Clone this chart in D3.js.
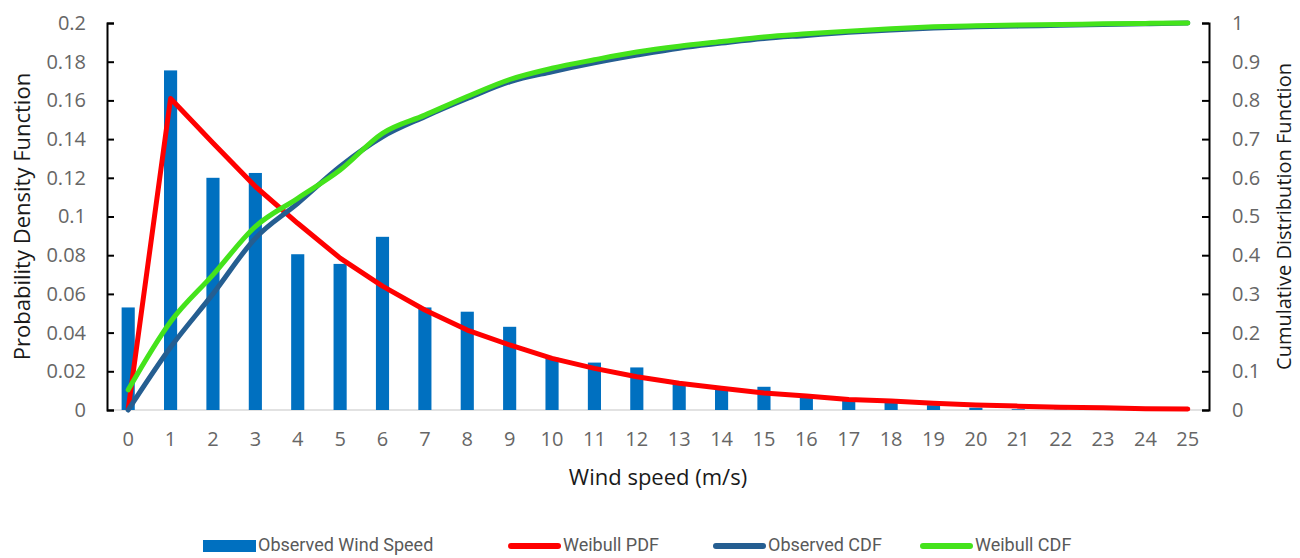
<!DOCTYPE html>
<html>
<head>
<meta charset="utf-8">
<script src="https://cdn.jsdelivr.net/npm/d3@7.9.0/dist/d3.min.js"></script>
<style>
  html, body { margin: 0; padding: 0; background: #fff; }
  svg { display: block; font-family: "Open Sans", "Noto Sans", sans-serif; }
  .tick text { fill: #666; }
</style>
</head>
<body>
<svg id="chart" width="1300" height="558"></svg>
<script>
const speeds = d3.range(0, 26).map(String);

const observedPdf = [
  0.053, 0.1755, 0.12, 0.1225, 0.0805, 0.0755, 0.0895, 0.053, 0.0508, 0.043,
  0.027, 0.0245, 0.022, 0.014, 0.0105, 0.012, 0.007, 0.005, 0.0045, 0.0025,
  0.0012, 0.0004, 0.0002, 0.0001, 0.0001, 0,
];

const weibullPdf = [
  0.0005, 0.161, 0.138, 0.1155, 0.0965, 0.0785, 0.064, 0.0517, 0.0413, 0.0336,
  0.0267, 0.0215, 0.0172, 0.0138, 0.0112, 0.0088, 0.0072, 0.0054, 0.0047, 0.0035,
  0.0026, 0.002, 0.0014, 0.0012, 0.0007, 0.0005,
];

const observedCdf = [
  0, 0.162, 0.3, 0.444, 0.534, 0.629, 0.706, 0.758, 0.805, 0.848,
  0.874, 0.897, 0.917, 0.935, 0.948, 0.96, 0.968, 0.976, 0.982, 0.987,
  0.99, 0.992, 0.994, 0.996, 0.998, 1.0,
];

const weibullCdf = [
  0.052, 0.228, 0.349, 0.474, 0.547, 0.62, 0.715, 0.762, 0.81, 0.854,
  0.883, 0.905, 0.925, 0.94, 0.952, 0.964, 0.972, 0.979, 0.985, 0.99,
  0.993, 0.995, 0.996, 0.998, 0.999, 1.0,
];

const leftTicks = [0, 0.02, 0.04, 0.06, 0.08, 0.1, 0.12, 0.14, 0.16, 0.18, 0.2];
const rightTicks = [0, 0.1, 0.2, 0.3, 0.4, 0.5, 0.6, 0.7, 0.8, 0.9, 1];

const legendItems = [
  { label: "Observed Wind Speed", color: "#0070C0", type: "bar" },
  { label: "Weibull PDF", color: "#FF0000", type: "line" },
  { label: "Observed CDF", color: "#255E91", type: "line" },
  { label: "Weibull CDF", color: "#44E31B", type: "line" },
];

const svg = d3.select("#chart");
const margin = { top: 23, right: 91, bottom: 148, left: 107 };
const width = 1300 - margin.left - margin.right;
const height = 558 - margin.top - margin.bottom;

const g = svg.append("g").attr("transform", `translate(${margin.left},${margin.top})`);

const x = d3.scaleBand().domain(speeds).range([0, width]).paddingInner(0.69).paddingOuter(0.345);
const xc = (d, i) => x(speeds[i]) + x.bandwidth() / 2;
const yLeft = d3.scaleLinear().domain([0, 0.2]).range([height, 0]);
const yRight = d3.scaleLinear().domain([0, 1]).range([height, 0]);

// x baseline
g.append("line")
  .attr("x1", 0).attr("x2", width)
  .attr("y1", height).attr("y2", height)
  .attr("stroke", "#d9d9d9").attr("stroke-width", 1.5);

// bars
g.selectAll("rect.bar")
  .data(observedPdf)
  .join("rect")
  .attr("class", "bar")
  .attr("x", (d, i) => x(speeds[i]))
  .attr("width", x.bandwidth())
  .attr("y", (d) => yLeft(d))
  .attr("height", (d) => height - yLeft(d))
  .attr("fill", "#0070C0");

function drawLine(values, scale, color, curve) {
  const line = d3.line().x(xc).y((d) => scale(d)).curve(curve);
  g.append("path")
    .datum(values)
    .attr("d", line)
    .attr("fill", "none")
    .attr("stroke", color)
    .attr("stroke-width", 5)
    .attr("stroke-linecap", "round")
    .attr("stroke-linejoin", "round");
}

drawLine(weibullPdf, yLeft, "#FF0000", d3.curveLinear);
drawLine(observedCdf, yRight, "#255E91", d3.curveMonotoneX);
drawLine(weibullCdf, yRight, "#44E31B", d3.curveMonotoneX);

// axes
const leftAxis = g.append("g")
  .call(d3.axisLeft(yLeft).tickValues(leftTicks).tickSize(-7).tickPadding(21).tickFormat((d) => String(+d.toFixed(2))));
const rightAxis = g.append("g")
  .attr("transform", `translate(${width},0)`)
  .call(d3.axisRight(yRight).tickValues(rightTicks).tickSize(-7).tickPadding(23).tickFormat((d) => String(+d.toFixed(1))));

[leftAxis, rightAxis].forEach((ax) => {
  ax.select(".domain").attr("stroke", "#000").attr("stroke-width", 2);
  ax.selectAll(".tick line").attr("stroke", "#000").attr("stroke-width", 2);
  ax.selectAll(".tick text").attr("font-size", 20).attr("font-family", "Open Sans, sans-serif");
});

const bottomAxis = g.append("g")
  .attr("transform", `translate(0,${height})`)
  .call(d3.axisBottom(x).tickSize(0).tickPadding(22));
bottomAxis.select(".domain").remove();
bottomAxis.selectAll(".tick text").attr("font-size", 20).attr("font-family", "Open Sans, sans-serif");

// axis titles
svg.append("text")
  .attr("transform", `translate(24,${margin.top + height / 2}) rotate(-90)`)
  .attr("text-anchor", "middle")
  .attr("dominant-baseline", "middle")
  .attr("font-size", 22)
  .attr("fill", "#1a1a1a")
  .text("Probability Density Function");

svg.append("text")
  .attr("transform", `translate(1286,${margin.top + height / 2}) rotate(-90)`)
  .attr("text-anchor", "middle")
  .attr("dominant-baseline", "middle")
  .attr("font-size", 20)
  .attr("fill", "#1a1a1a")
  .text("Cumulative Distribution Function");

svg.append("text")
  .attr("x", margin.left + width / 2)
  .attr("y", 479)
  .attr("text-anchor", "middle")
  .attr("dominant-baseline", "middle")
  .attr("font-size", 22)
  .attr("fill", "#1a1a1a")
  .text("Wind speed (m/s)");

// legend
const legendX = [203, 508, 713, 920];
const legend = svg.append("g").attr("transform", "translate(0,546)");
legendItems.forEach((item, i) => {
  const lg = legend.append("g").attr("transform", `translate(${legendX[i]},0)`);
  if (item.type === "bar") {
    lg.append("rect").attr("x", 0).attr("y", -6).attr("width", 53).attr("height", 12).attr("fill", item.color);
  } else {
    lg.append("line").attr("x1", 3).attr("x2", 50).attr("y1", 0).attr("y2", 0)
      .attr("stroke", item.color).attr("stroke-width", 6).attr("stroke-linecap", "round");
  }
  lg.append("text")
    .attr("x", 55)
    .attr("y", 0)
    .attr("dominant-baseline", "middle")
    .attr("font-size", 18)
    .attr("font-family", "Roboto, sans-serif")
    .attr("fill", "#595959")
    .text(item.label);
});
</script>
</body>
</html>
